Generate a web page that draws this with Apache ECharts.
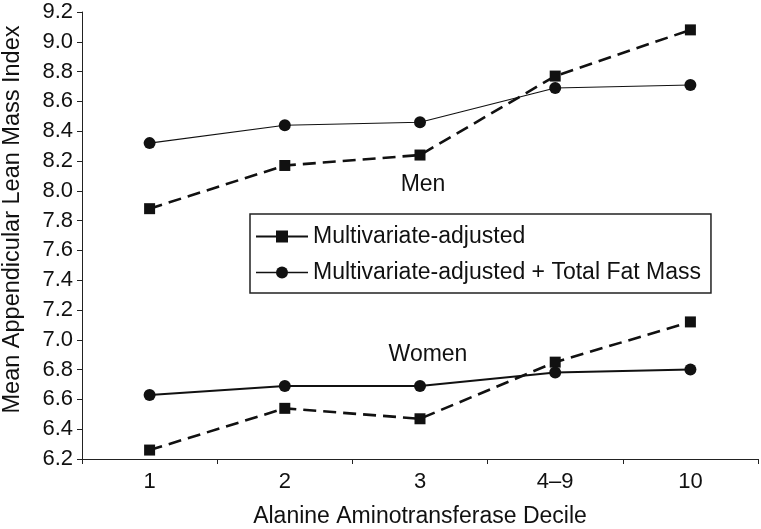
<!DOCTYPE html>
<html>
<head>
<meta charset="utf-8">
<script src="https://cdn.jsdelivr.net/npm/echarts@6/dist/echarts.min.js"></script>
<style>html,body{margin:0;padding:0;background:#fff}#chart{width:761px;height:529px}</style>
</head>
<body>
<div id="chart"></div>
<script>
const categories = ['1', '2', '3', '4\u20139', '10'];
const menAdjusted = [7.88, 8.17, 8.24, 8.77, 9.08];
const menAdjustedFat = [8.32, 8.44, 8.46, 8.69, 8.71];
const womenAdjusted = [6.26, 6.54, 6.47, 6.85, 7.12];
const womenAdjustedFat = [6.63, 6.69, 6.69, 6.78, 6.80];
const seriesNames = ['Multivariate-adjusted', 'Multivariate-adjusted + Total Fat Mass'];
const groupLabels = ['Men', 'Women'];
const yAxisTitle = 'Mean Appendicular Lean Mass Index';
const xAxisTitle = 'Alanine Aminotransferase Decile';

const FONT = 'Liberation Sans, Arial, Helvetica, sans-serif';
const INK = '#111';

const chart = echarts.init(document.getElementById('chart'), null, {renderer: 'canvas'});

function sq(name, data) {
  return {
    name: name, type: 'line', data: data, symbol: 'rect', symbolSize: 11,
    itemStyle: {color: INK},
    lineStyle: {color: INK, width: 2.6, type: [13, 7]},
    z: 3, animation: false
  };
}
function ci(name, data, w) {
  return {
    name: name, type: 'line', data: data, symbol: 'circle', symbolSize: 12,
    itemStyle: {color: INK},
    lineStyle: {color: INK, width: w, type: 'solid'},
    z: 3, animation: false
  };
}

chart.setOption({
  animation: false,
  backgroundColor: '#fff',
  textStyle: {fontFamily: FONT},
  grid: {left: 82, right: 3, top: 12, bottom: 70, containLabel: false, outerBoundsMode: 'none'},
  xAxis: {
    type: 'category', data: categories, boundaryGap: true,
    name: xAxisTitle, nameLocation: 'middle', nameGap: 46,
    nameTextStyle: {fontSize: 23, color: INK, fontFamily: FONT},
    axisLine: {lineStyle: {color: '#222', width: 1}},
    axisTick: {show: true, length: 5, lineStyle: {color: '#222'}},
    axisLabel: {fontSize: 22, color: INK, margin: 12, fontFamily: FONT},
    splitLine: {show: false}
  },
  yAxis: {
    type: 'value', min: 6.2, max: 9.2, interval: 0.2,
    name: yAxisTitle, nameLocation: 'middle', nameGap: 57,
    nameTextStyle: {fontSize: 23.5, color: INK, fontFamily: FONT, padding: [0, 0, 0, 32]},
    axisLine: {show: true, lineStyle: {color: '#222', width: 1}},
    axisTick: {show: true, length: 5, lineStyle: {color: '#222'}},
    axisLabel: {fontSize: 22, color: INK, margin: 9, fontFamily: FONT,
      formatter: v => v.toFixed(1)},
    splitLine: {show: false}
  },
  legend: {
    orient: 'vertical', left: 250, top: 214,
    padding: [11, 10, 9, 5],
    itemGap: 13, itemWidth: 52, itemHeight: 15,
    borderColor: '#222', borderWidth: 1.5, borderRadius: 0,
    backgroundColor: '#fff',
    textStyle: {fontSize: 23, color: INK, fontFamily: FONT},
    data: [
      {name: seriesNames[0], lineStyle: {type: 'solid', width: 2}},
      {name: seriesNames[1], lineStyle: {type: 'solid', width: 1.5}}
    ],
    selectedMode: false
  },
  graphic: [
    {type: 'text', x: 423, y: 185, style: {text: groupLabels[0], fill: INK, font: '23px ' + FONT, align: 'center', verticalAlign: 'middle'}},
    {type: 'text', x: 428, y: 355, style: {text: groupLabels[1], fill: INK, font: '23px ' + FONT, align: 'center', verticalAlign: 'middle'}}
  ],
  series: [
    sq(seriesNames[0], menAdjusted),
    ci(seriesNames[1], menAdjustedFat, 1.2),
    sq(seriesNames[0], womenAdjusted),
    ci(seriesNames[1], womenAdjustedFat, 2)
  ]
});
</script>
</body>
</html>
